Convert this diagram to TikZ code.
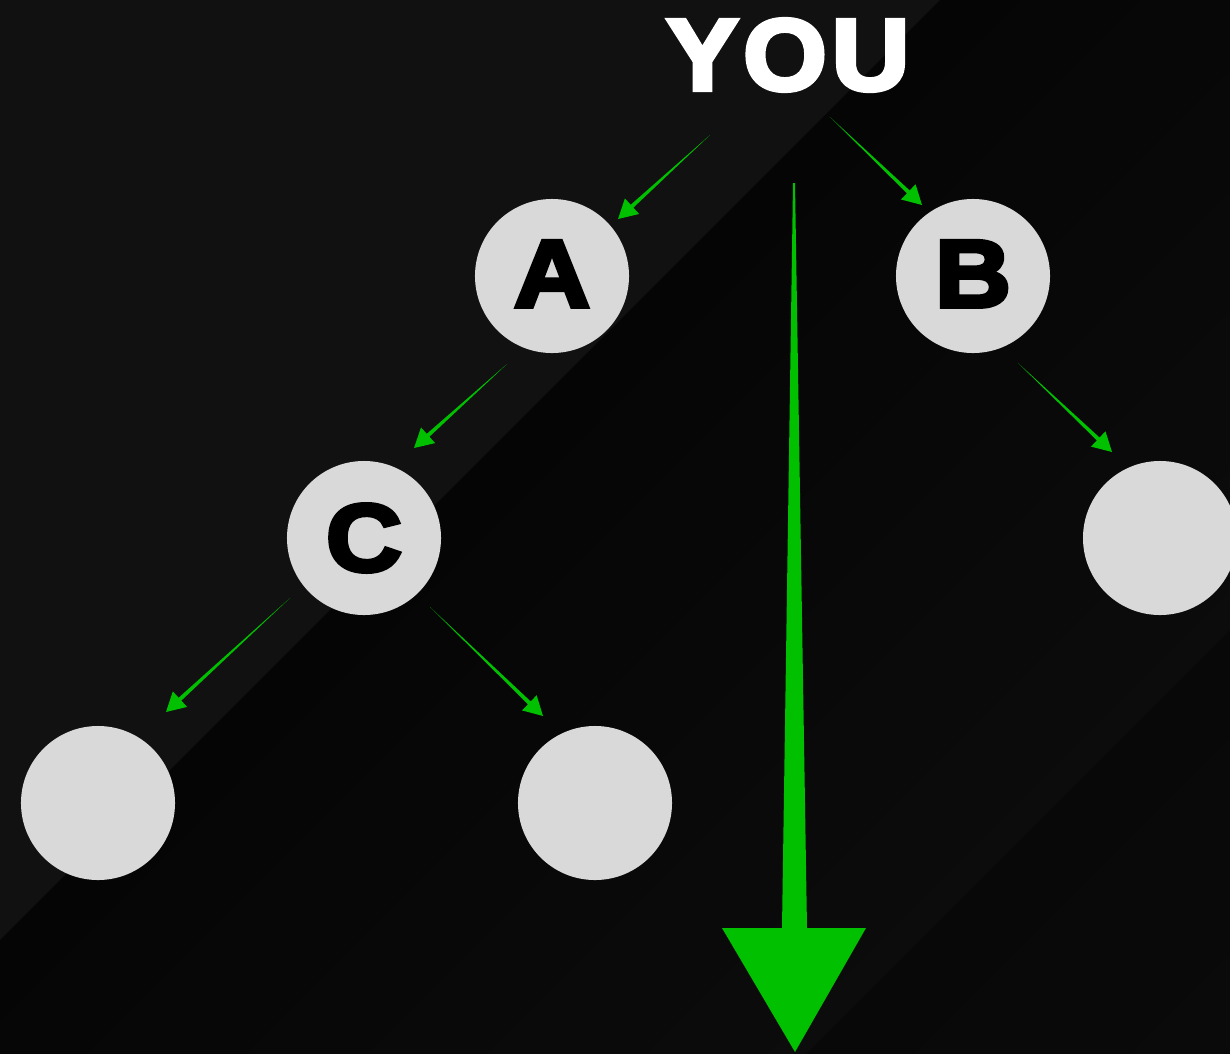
\documentclass[tikz,border=0pt]{standalone}
\usepackage{fontspec}
\newfontfamily\heavy[FakeBold=4.5,FakeStretch=1.1]{Liberation Sans Bold}
\newfontfamily\heavytitle[FakeBold=4.5,FakeStretch=1.06,LetterSpace=5]{Liberation Sans Bold}
\usetikzlibrary{calc}
\definecolor{bandA}{HTML}{111111}
\definecolor{darkB}{HTML}{050505}
\definecolor{lightB}{HTML}{0C0C0C}
\definecolor{darkC}{HTML}{080808}
\definecolor{lightC}{HTML}{0A0A0A}
\definecolor{nodegray}{HTML}{D9D9D9}
\definecolor{arrowgreen}{HTML}{00C000}
% tapered arrow: #1 start, #2 tip, #3 shaft width at head, #4 head length, #5 head width
\newcommand\taperarrow[5]{%
  \coordinate (hb) at ($(#2)!#4!(#1)$);
  \coordinate (p1) at ($(hb)!#3/2!90:(#2)$);
  \coordinate (p2) at ($(hb)!#3/2!-90:(#2)$);
  \coordinate (q1) at ($(hb)!#5/2!90:(#2)$);
  \coordinate (q2) at ($(hb)!#5/2!-90:(#2)$);
  \fill[arrowgreen] (#1) -- (p1) -- (q1) -- (#2) -- (q2) -- (p2) -- cycle;
}
\begin{document}
\begin{tikzpicture}[x=0.025cm,y=-0.025cm,
  circ/.style={circle, fill=nodegray, minimum size=3.85cm, inner sep=0pt,
    font=\heavy\fontsize{68}{68}\selectfont, text=black},
  title/.style={font=\heavytitle\fontsize{72}{72}\selectfont, text=white, inner sep=0pt}]
\useasboundingbox (0,0) rectangle (1230,1053);
% background bands
\begin{scope}
\clip (0,0) rectangle (1230,1053);
\fill[bandA] (0,0) rectangle (1230,1053);
\foreach \i in {0,...,23} {
  \pgfmathsetmacro{\a}{940+\i*40}
  \pgfmathsetmacro{\b}{\a+42}
  \pgfmathsetmacro{\p}{100-\i*100/23}
  \fill[darkB!\p!lightB] (\a,0) -- (\b,0) -- (\b-1200,1200) -- (\a-1200,1200) -- cycle;
}
\foreach \i in {0,...,11} {
  \pgfmathsetmacro{\a}{1860+\i*36}
  \pgfmathsetmacro{\b}{\a+38}
  \pgfmathsetmacro{\p}{100-\i*100/11}
  \fill[darkC!\p!lightC] (\a,0) -- (\b,0) -- (\b-1200,1200) -- (\a-1200,1200) -- cycle;
}
\end{scope}
% nodes
\node[title] (you) at (788,55) {YOU};
\node[circ] (A) at (552,276) {\raisebox{3pt}{A}};
\node[circ] (B) at (973,276) {\raisebox{3pt}{B}};
\node[circ] (C) at (364,538) {C};
\node[circ] (R) at (1160,538) {};
\node[circ] (BL) at (98,803) {};
\node[circ] (BM) at (595,803) {};
% connectors
\taperarrow{$(you)+(-78,80)$}{$(A)+(66,-57)$}{2.8pt}{13.5pt}{15pt}
\taperarrow{$(you)+(42,62)$}{$(B)+(-51,-71)$}{2.8pt}{13.5pt}{15pt}
\taperarrow{$(A)+(-45,88)$}{$(C)+(50,-90)$}{2.8pt}{13.5pt}{15pt}
\taperarrow{$(B)+(45,87)$}{$(R)+(-48,-86)$}{2.8pt}{13.5pt}{15pt}
\taperarrow{$(C)+(-74,60)$}{$(BL)+(68,-91)$}{2.8pt}{13.5pt}{15pt}
\taperarrow{$(C)+(66,69)$}{$(BM)+(-52,-87)$}{2.8pt}{13.5pt}{15pt}
% big arrow
\coordinate (top) at ($(you)+(6,128)$);
\coordinate (fall) at (795,1052);
\fill[arrowgreen] ($(top)+(-1,0)$) -- (782,928) -- (722,928) -- (fall)
  -- (866,928) -- (807,928) -- ($(top)+(1,0)$) -- cycle;
\end{tikzpicture}
\end{document}
